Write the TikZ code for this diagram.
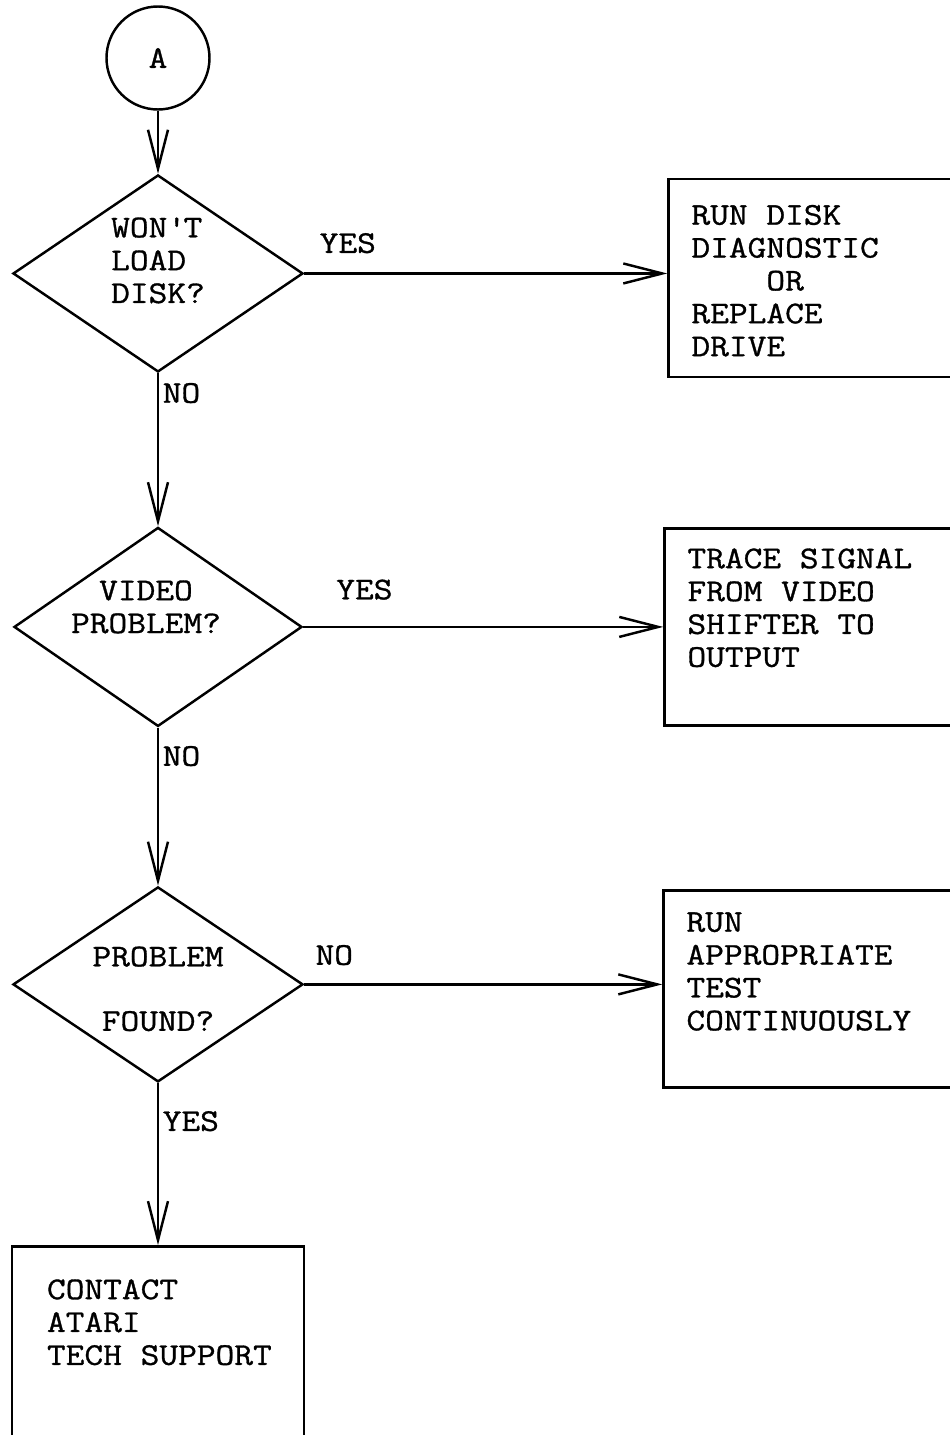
\documentclass[tikz,border=0pt]{standalone}
\usepackage{fontspec}
\setmonofont[FakeStretch=1.15, FakeBold=1]{Latin Modern Mono}
\usetikzlibrary{shapes}
\usetikzlibrary{arrows.meta}
\usetikzlibrary{positioning}
\tikzstyle{connector} = [circle, draw, minimum size=2.06cm, inner sep=0pt]
\tikzstyle{decision} = [diamond, draw, minimum width=5.8cm, minimum height=3.94cm, inner sep=0pt]
\tikzstyle{action} = [rectangle, draw, minimum width=5.8cm, minimum height=3.94cm, inner sep=0pt]
\tikzstyle{words} = [inner sep=0pt, align=left]
\tikzstyle{lbl} = [inner sep=0pt]
\tikzstyle{flow} = [-{Straight Barb[length=0.78cm, width=0.4cm]}]

\begin{document}
\begin{tikzpicture}
  [
    line width=1.4pt,
    font=\ttfamily\fontsize{18}{18.7}\selectfont
  ]
  \useasboundingbox (0,0) rectangle (19,-28.7);

  % main column
  \node[connector] (A) at (3.16,-1.16) {A};
  \node[decision, below=1.26cm of A] (d1) {};
  \node[decision, below=3.06cm of d1, minimum width=5.76cm, minimum height=3.98cm] (d2) {};
  \node[decision, below=3.16cm of d2, minimum height=3.9cm] (d3) {};
  \node[action, below=3.24cm of d3, minimum width=5.84cm, minimum height=3.9cm] (b4) {};

  % right column
  \node[action, right=7.26cm of d1, yshift=-0.09cm, minimum height=3.96cm] (b1) {};
  \node[action, right=7.2cm of d2] (b2) {};
  \node[action, right=7.16cm of d3, yshift=-0.09cm] (b3) {};

  % texts
  \node[words] (q1) at ([yshift=0.26cm]d1.center) {WON\textquotesingle T\\LOAD\\DISK?};
  \node[words, align=center] (q2) at ([xshift=-0.24cm, yshift=0.4cm]d2.center) {VIDEO\\PROBLEM?};
  \node[words, align=center] (q3) at ([yshift=-0.09cm]d3.center) {PROBLEM\\[18pt]FOUND?};

  \node[words, below right=0.52cm and 0.46cm of b1.north west] (t1) {RUN DISK\\DIAGNOSTIC\\\ \ \ \ OR\\REPLACE\\DRIVE};
  \node[words, below right=0.4cm and 0.46cm of b2.north west] (t2) {TRACE SIGNAL\\FROM VIDEO\\SHIFTER TO\\OUTPUT};
  \node[words, below right=0.44cm and 0.46cm of b3.north west] (t3) {RUN\\APPROPRIATE\\TEST\\CONTINUOUSLY};
  \node[words, below right=0.66cm and 0.7cm of b4.north west] (t4) {CONTACT\\ATARI\\TECH SUPPORT};

  % connections
  \draw[flow] (A) -- (d1);
  \draw[flow] (d1) -- node[lbl, pos=0.13, right=2pt] {NO} (d2);
  \draw[flow] (d2) -- node[lbl, pos=0.18, right=2pt] {NO} (d3);
  \draw[flow] (d3) -- node[lbl, pos=0.235, right=2pt] {YES} (b4);

  \draw[flow] (d1.east) -- node[lbl, pos=0.12, above=0.38cm] {YES} (d1.east -| b1.west);
  \draw[flow] (d2.east) -- node[lbl, pos=0.17, above=0.52cm] {YES} (d2.east -| b2.west);
  \draw[flow] (d3.east) -- node[lbl, pos=0.084, above=0.36cm] {NO} (d3.east -| b3.west);
\end{tikzpicture}
\end{document}
